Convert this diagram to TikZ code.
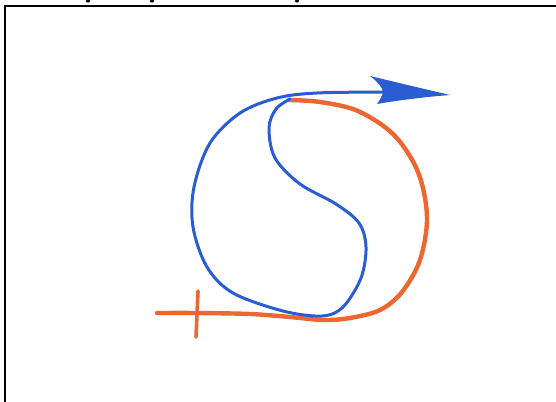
\documentclass[tikz,border=0pt]{standalone}
\usetikzlibrary{calc}
\definecolor{penblue}{RGB}{42,92,212}
\definecolor{penorange}{RGB}{236,104,48}
\tikzset{
  bluestroke/.style={draw=penblue, line width=3pt, line cap=round, line join=round},
  orangestroke/.style={draw=penorange, line width=4.4pt, line cap=round, line join=round},
  framestroke/.style={draw=black, line width=2pt},
}
\begin{document}
\begin{tikzpicture}[x=1pt,y=-1pt]
\useasboundingbox (0,0) rectangle (556,401);
\fill[white] (0,0) rectangle (556,401);
% frame
\draw[framestroke] (4.5,402) -- (4.5,6.5) -- (557,6.5);
% fragments of text above the frame
\fill[black] (88,1) ellipse (2 and 1.6);
\fill[black] (152,1) ellipse (2 and 1.6);
\fill[black] (297,1) ellipse (2 and 1.6);
% orange line and right half
\draw[orangestroke] plot[smooth, tension=0.55] coordinates {
 (157,313) (197,313) (250,314) (290,317) (323,320) (350,318) (380,310)
 (402,292) (420,260) (427,217) (418,172) (394,135) (358,111) (320,102) (289,100)};
% orange cross bar
\draw[orangestroke, line width=3.6pt] (198,291) -- (196,337);
% blue S, left half, and arrow shaft
\draw[bluestroke] plot[smooth, tension=0.55] coordinates {
 (290,99) (276,109) (269,128) (275,158) (300,184) (336,204) (359,223) (366,247)
 (361,278) (343,307) (322,316) (283,311) (233,293) (207,267) (193,227)
 (194,187) (210,143) (240,113) (277,98) (317,93) (386,92)};
% arrowhead
\fill[penblue] (450,95) .. controls (420,88) and (395,82) .. (370,76)
  .. controls (378,82) and (382,87) .. (383,92)
  .. controls (382,97) and (379,101) .. (377,104)
  .. controls (400,100) and (425,97) .. (450,95) -- cycle;
\end{tikzpicture}
\end{document}
